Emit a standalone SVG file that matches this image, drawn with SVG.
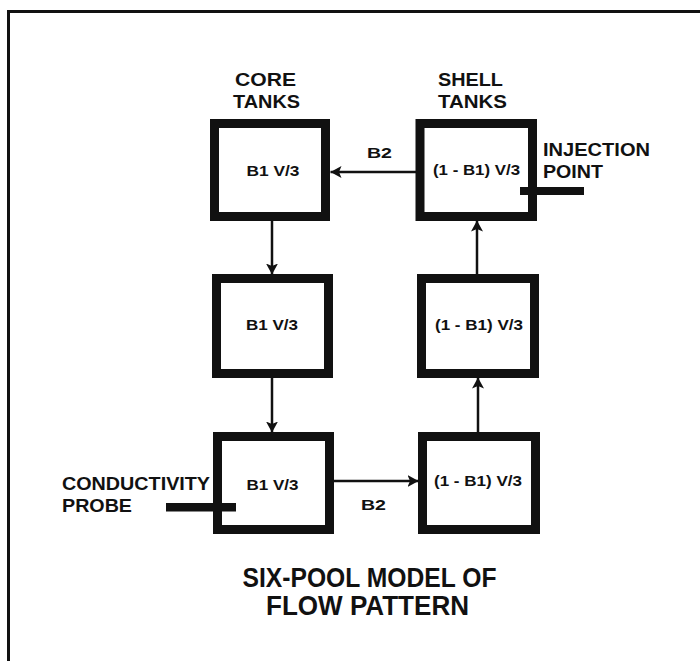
<svg xmlns="http://www.w3.org/2000/svg" width="700" height="661" viewBox="0 0 700 661">
<style>
.t{font-family:"Liberation Sans",Arial,Helvetica,sans-serif;font-weight:bold;fill:#111}
.lbl{font-size:18px}
.box{fill:#fff;stroke:#111;stroke-width:9}
.bt{font-size:14.5px;text-anchor:middle}
.b2{font-size:15.5px;text-anchor:middle}
.ttl{font-size:27px;text-anchor:middle}
.conn{stroke:#111;stroke-width:2.5;fill:none;marker-end:url(#ah)}
.bar{fill:#111}
</style>
<defs>
<marker id="ah" markerUnits="userSpaceOnUse" markerWidth="12" markerHeight="12" refX="11" refY="6" orient="auto">
<path d="M0,0 L11,6 L0,12 L2.5,6 Z" fill="#111"/>
</marker>
</defs>
<rect width="700" height="661" fill="#fff"/>
<path d="M8.5,661 V11.5 H700" fill="none" stroke="#111" stroke-width="3"/>

<g id="headers">
<text class="t lbl" x="265.5" y="86" text-anchor="middle" textLength="61" lengthAdjust="spacingAndGlyphs">CORE</text>
<text class="t lbl" x="266.5" y="108" text-anchor="middle" textLength="67" lengthAdjust="spacingAndGlyphs">TANKS</text>
<text class="t lbl" x="470.5" y="86" text-anchor="middle" textLength="65" lengthAdjust="spacingAndGlyphs">SHELL</text>
<text class="t lbl" x="472.5" y="108" text-anchor="middle" textLength="69" lengthAdjust="spacingAndGlyphs">TANKS</text>
</g>

<g id="core1">
<rect class="box" x="214.5" y="123.5" width="111" height="93"/>
<text class="t bt" x="273" y="176" textLength="53" lengthAdjust="spacingAndGlyphs">B1 V/3</text>
</g>
<g id="core2">
<rect class="box" x="216.5" y="278.5" width="112" height="95"/>
<text class="t bt" x="272" y="329.5" textLength="52" lengthAdjust="spacingAndGlyphs">B1 V/3</text>
</g>
<g id="core3">
<rect class="box" x="217.5" y="436.5" width="112" height="93"/>
<text class="t bt" x="272.5" y="490" textLength="52" lengthAdjust="spacingAndGlyphs">B1 V/3</text>
</g>
<g id="shell1">
<rect class="box" x="420" y="123.5" width="112.5" height="93"/>
<text class="t bt" x="476.5" y="175" textLength="87" lengthAdjust="spacingAndGlyphs">(1 - B1) V/3</text>
</g>
<g id="shell2">
<rect class="box" x="421.5" y="278.5" width="113" height="95"/>
<text class="t bt" x="479" y="329.5" textLength="88" lengthAdjust="spacingAndGlyphs">(1 - B1) V/3</text>
</g>
<g id="shell3">
<rect class="box" x="422.5" y="436.5" width="113" height="93"/>
<text class="t bt" x="478" y="486" textLength="88" lengthAdjust="spacingAndGlyphs">(1 - B1) V/3</text>
</g>

<g id="injection">
<rect class="bar" x="520" y="187" width="64" height="8"/>
<text class="t lbl" x="543" y="156" textLength="107" lengthAdjust="spacingAndGlyphs">INJECTION</text>
<text class="t lbl" x="543" y="177.5" textLength="60" lengthAdjust="spacingAndGlyphs">POINT</text>
</g>
<g id="probe">
<rect class="bar" x="166" y="503" width="70" height="8.5"/>
<text class="t lbl" x="62" y="490" textLength="148" lengthAdjust="spacingAndGlyphs">CONDUCTIVITY</text>
<text class="t lbl" x="62" y="512" textLength="70" lengthAdjust="spacingAndGlyphs">PROBE</text>
</g>

<g id="connectors">
<line class="conn" x1="416" y1="172" x2="330.5" y2="172"/>
<line class="conn" x1="272" y1="221" x2="272" y2="274.5"/>
<line class="conn" x1="272" y1="378" x2="272" y2="432.5"/>
<line class="conn" x1="334" y1="481" x2="418.5" y2="481"/>
<line class="conn" x1="478" y1="432" x2="478" y2="377.5"/>
<line class="conn" x1="477" y1="274" x2="477" y2="220.5"/>
<text class="t b2" x="379.5" y="158" textLength="25" lengthAdjust="spacingAndGlyphs">B2</text>
<text class="t b2" x="373.5" y="510" textLength="25" lengthAdjust="spacingAndGlyphs">B2</text>
</g>

<g id="title">
<text class="t ttl" x="369.5" y="586.5" textLength="254" lengthAdjust="spacingAndGlyphs">SIX-POOL MODEL OF</text>
<text class="t ttl" x="367.5" y="615" textLength="203" lengthAdjust="spacingAndGlyphs">FLOW PATTERN</text>
</g>
</svg>
